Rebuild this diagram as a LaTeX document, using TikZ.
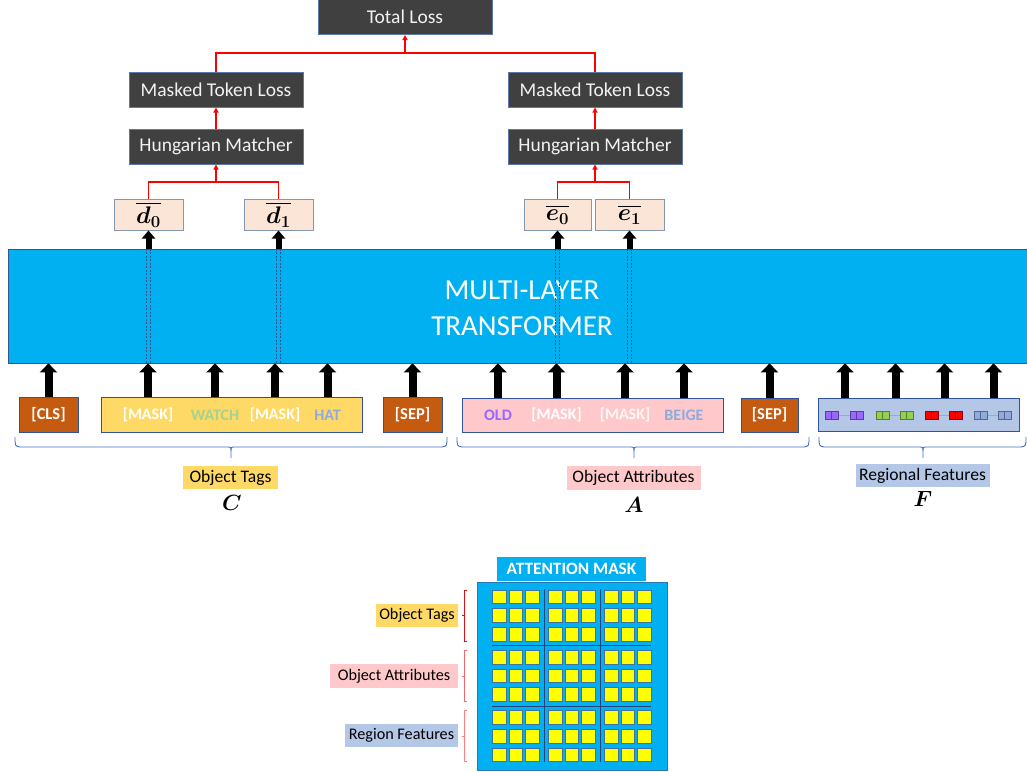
\documentclass[tikz,border=0pt]{standalone}
\usepackage{fix-cm}
\usepackage{amsmath}
\usepackage{fontspec}
\setmainfont{Carlito}
\usetikzlibrary{arrows.meta}

\definecolor{boxdark}{HTML}{404040}
\definecolor{boxedge}{HTML}{5A78A8}
\definecolor{lossred}{HTML}{FF0000}
\definecolor{peach}{HTML}{FBE5D6}
\definecolor{peachedge}{HTML}{8497B0}
\definecolor{tfblue}{HTML}{00B0F0}
\definecolor{tfedge}{HTML}{2F5597}
\definecolor{rust}{HTML}{C55A11}
\definecolor{tagyellow}{HTML}{FFD966}
\definecolor{attpink}{HTML}{FFC9CB}
\definecolor{regblue}{HTML}{B4C7E7}
\definecolor{watchgreen}{HTML}{A9D18E}
\definecolor{hatblue}{HTML}{8FAADC}
\definecolor{oldpurple}{HTML}{9966FF}
\definecolor{bracecol}{HTML}{4472C4}
\definecolor{featpurple}{HTML}{9966FF}
\definecolor{featgreen}{HTML}{92D050}
\definecolor{featred}{HTML}{FF0000}
\definecolor{featblue}{HTML}{8FAADC}
\definecolor{cellyellow}{HTML}{FFFF00}
\definecolor{celledge}{HTML}{41719C}
\definecolor{maskedge}{HTML}{2E75B6}
\definecolor{brkA}{HTML}{E01010}
\definecolor{brkB}{HTML}{F46A6A}
\definecolor{brkC}{HTML}{FF7C80}

\begin{document}
\begin{tikzpicture}[x=1pt,y=-1pt,
  darkbox/.style={draw=boxedge,line width=1pt,fill=boxdark,text=white!95!black,inner sep=0pt,
    minimum width=174pt,minimum height=35pt,font=\fontsize{19.5}{22}\selectfont},
  outbox/.style={draw=peachedge,line width=1pt,fill=peach,inner sep=0pt,
    minimum height=31pt,font=\fontsize{24}{26}\selectfont},
  redline/.style={draw=lossred,line width=1.6pt},
  redarrow/.style={redline,-{Triangle[length=5pt,width=5pt]}},
  blockarrow/.style={draw=black,line width=8pt,-{Triangle[length=9pt,width=17pt]}},
  tokbox/.style={draw=tfedge,line width=0.8pt,inner sep=0pt,minimum height=35pt},
  sepbox/.style={tokbox,fill=rust,text=white,minimum width=59pt,
    font=\bfseries\fontsize{16.5}{18}\selectfont},
  tok/.style={inner sep=0pt,font=\bfseries\fontsize{16}{18}\selectfont},
  tagbox/.style={inner sep=0pt,text=black,font=\fontsize{17.6}{20}\selectfont},
  sidebox/.style={tagbox,font=\fontsize{16.2}{19}\selectfont},
  mathlbl/.style={inner sep=0pt,font=\fontsize{22}{24}\selectfont},
  bracestyle/.style={draw=bracecol,line width=0.9pt},
  dotcol/.style={draw=tfedge,line width=1.1pt,dash pattern=on 2pt off 1.5pt},
  cell/.style={draw=celledge,line width=0.8pt,fill=cellyellow},
  featsq/.style={line width=0.6pt},
  sepline/.style={draw=tfedge!80!black,line width=0.8pt}
]
\useasboundingbox (0,0) rectangle (1027,771);

% ---------- loss heads ----------
\node[darkbox] (total) at (405,17) {Total Loss};
\node[darkbox] (mtlL) at (216,89.5) {Masked Token Loss};
\node[darkbox] (mtlR) at (595,89.5) {Masked Token Loss};
\node[darkbox] (hmL) at (216,146.5) {Hungarian Matcher};
\node[darkbox] (hmR) at (595,146.5) {Hungarian Matcher};

\node[outbox,minimum width=69pt] (d0) at (148.5,214.5) {$\overline{\boldsymbol{d_0}}$};
\node[outbox,minimum width=69pt] (d1) at (278.5,214.5) {$\overline{\boldsymbol{d_1}}$};
\node[outbox,minimum width=67pt] (e0) at (557.5,214.5) {$\overline{\boldsymbol{e_0}}$};
\node[outbox,minimum width=69pt] (e1) at (629.5,214.5) {$\overline{\boldsymbol{e_1}}$};

\coordinate (jt) at (405,53);
\coordinate (jdl) at (216,182);
\coordinate (jdr) at (595,182);
\draw[redline] (mtlL.north) |- (jt) -| (mtlR.north);
\draw[redarrow] (jt) -- (total.south);
\draw[redarrow] (hmL.north) -- (mtlL.south);
\draw[redarrow] (hmR.north) -- (mtlR.south);
\draw[redline] (d0.north) |- (jdl) -| (d1.north);
\draw[redarrow] (jdl) -- (hmL.south);
\draw[redline] (e0.north) |- (jdr) -| (e1.north);
\draw[redarrow] (jdr) -- (hmR.south);

% ---------- transformer ----------
\node[fill=tfblue,draw=tfedge,line width=0.8pt,inner sep=0pt,
  minimum width=1024pt,minimum height=114pt] (tf) at (520,306) {};
\node[text=white,align=center,inner sep=0pt,
  font=\fontsize{29}{36}\selectfont] (tftext) at (522,308) {MULTI-LAYER\\TRANSFORMER};

\foreach \o in {d0,d1,e0,e1}{
  \draw[dotcol] ([xshift=-1.6pt]\o.south |- tf.north) -- ([xshift=-1.6pt]\o.south |- tf.south);
  \draw[dotcol] ([xshift=1.6pt]\o.south |- tf.north) -- ([xshift=1.6pt]\o.south |- tf.south);
  \draw[blockarrow,line width=6pt,-{Triangle[length=8pt,width=13pt]}] (\o.south |- tf.north) -- (\o.south);
}

% ---------- input sequence ----------
\node[sepbox] (cls) at (48.5,414.5) {[CLS]};
\node[tokbox,fill=tagyellow,minimum width=261pt] (yel) at (231.5,414.5) {};
\node[sepbox] (sepa) at (412.5,414.5) {[SEP]};
\node[tokbox,fill=attpink,minimum width=261pt,minimum height=34pt] (pink) at (592.5,415) {};
\node[sepbox,minimum width=57pt,minimum height=34pt] (sepb) at (769.5,415) {[SEP]};
\node[tokbox,fill=regblue,minimum width=201pt,minimum height=33pt] (rf) at (918.5,414.5) {};

\node[tok,text=white] (m1) at (148,415) {[MASK]};
\node[tok,text=watchgreen] (w1) at (215,415) {WATCH};
\node[tok,text=white] (m2) at (275,415) {[MASK]};
\node[tok,text=hatblue] (h1) at (327.5,415) {HAT};
\node[tok,text=oldpurple] (o1) at (498,415) {OLD};
\node[tok,text=white] (m3) at (556.5,415) {[MASK]};
\node[tok,text=white!85!attpink] (m4) at (625,415) {[MASK]};
\node[tok,text=hatblue] (b1) at (684,415) {BEIGE};

% region features: pairs of two-cell feature vectors
\foreach \c/\xa/\xb [count=\i] in {featpurple/825/850,featgreen/876/900,featred/925/949,featblue/974/998}{
  \draw[draw=featblue,line width=0.8pt] (\xa+13,415) -- (\xb,415);
  \foreach \xx in {\xa,\xb}{
    \draw[featsq,fill=\c,draw=\c!60!black] (\xx,411) rectangle ++(6.5,8);
    \draw[featsq,fill=\c,draw=\c!60!black] (\xx+6.5,411) rectangle ++(6.5,8);
  }
  \coordinate (g\i) at ({(\xa+\xb+13)/2+1},415);
}

\foreach \t in {m1,w1,m2,h1}{
  \draw[blockarrow] (\t |- yel.north) -- (\t |- tf.south);
}
\foreach \t in {o1,m3,m4,b1}{
  \draw[blockarrow] (\t |- pink.north) -- (\t |- tf.south);
}
\foreach \t in {g1,g2,g3,g4}{
  \draw[blockarrow] (\t |- rf.north) -- (\t |- tf.south);
}
\draw[blockarrow] (cls.north) -- (cls.north |- tf.south);
\draw[blockarrow] (sepa.north) -- (sepa.north |- tf.south);
\draw[blockarrow] (sepb.north) -- (sepb.north |- tf.south);

% ---------- group braces ----------
\foreach \xa/\xm/\xb in {15/231/447,457/634/809,819/923/1026}{
  \draw[bracestyle] (\xa,437) .. controls (\xa,446) .. (\xa+5,447) -- (\xm-4,447)
    .. controls (\xm,447) .. (\xm,451) -- (\xm,458);
  \draw[bracestyle] (\xb,437) .. controls (\xb,446) .. (\xb-5,447) -- (\xm+4,447)
    .. controls (\xm,447) .. (\xm,451);
}

\node[tagbox,fill=tagyellow,minimum width=95pt,minimum height=23pt] (ltag) at (230.5,477.5) {Object Tags};
\node[tagbox,fill=attpink,minimum width=134pt,minimum height=24pt] (latt) at (633.5,478) {Object Attributes};
\node[tagbox,fill=regblue,minimum width=134pt,minimum height=23pt] (lreg) at (922.5,475.5) {Regional Features};
\node[mathlbl] (symC) at (232,503) {$\boldsymbol{C}$};
\node[mathlbl] (symA) at (634,505) {$\boldsymbol{A}$};
\node[mathlbl] (symF) at (923,499) {$\boldsymbol{F}$};

% ---------- attention mask ----------
\node[fill=tfblue,text=white,inner sep=0pt,minimum width=149pt,minimum height=24pt,
  font=\bfseries\fontsize{17.3}{19}\selectfont] (mhdr) at (571.5,569) {ATTENTION MASK};
\node[fill=tfblue,draw=maskedge,line width=1pt,inner sep=0pt,
  minimum width=190pt,minimum height=188pt] (mbox) at (572,676) {};

\foreach \gi in {0,1,2}{
  \foreach \gj in {0,1,2}{
    \foreach \i in {0,1,2}{
      \foreach \j in {0,1,2}{
        \draw[cell] ({492.3+\gj*56+\j*16.7},{590+\gi*60.2+\i*18.8}) rectangle ++(13.6,13.8);
      }
    }
  }
}
\draw[sepline] (544,589) -- (544,762);
\draw[sepline] (600,589) -- (600,762);
\draw[sepline] (492,645.7) -- (651,645.7);
\draw[sepline] (492,705.9) -- (651,705.9);

\node[sidebox,fill=tagyellow,minimum width=82pt,minimum height=23pt] (mtag) at (417,615.5) {Object Tags};
\node[sidebox,fill=attpink,minimum width=128pt,minimum height=24pt] (matt) at (394,676) {Object Attributes};
\node[sidebox,fill=regblue,minimum width=113pt,minimum height=23pt] (mreg) at (401.5,735.5) {Region Features};

\foreach \ya/\yb/\c in {590.5/641/brkA,650.5/701.5/brkB,710.5/761.5/brkC}{
  \draw[draw=\c,line width=0.9pt] (466.5,\ya) -- (464,\ya) -- (464,\yb) -- (466.5,\yb);
  \draw[draw=\c,line width=0.9pt] (464,{(\ya+\yb)/2}) -- (461.5,{(\ya+\yb)/2});
}
\end{tikzpicture}
\end{document}
